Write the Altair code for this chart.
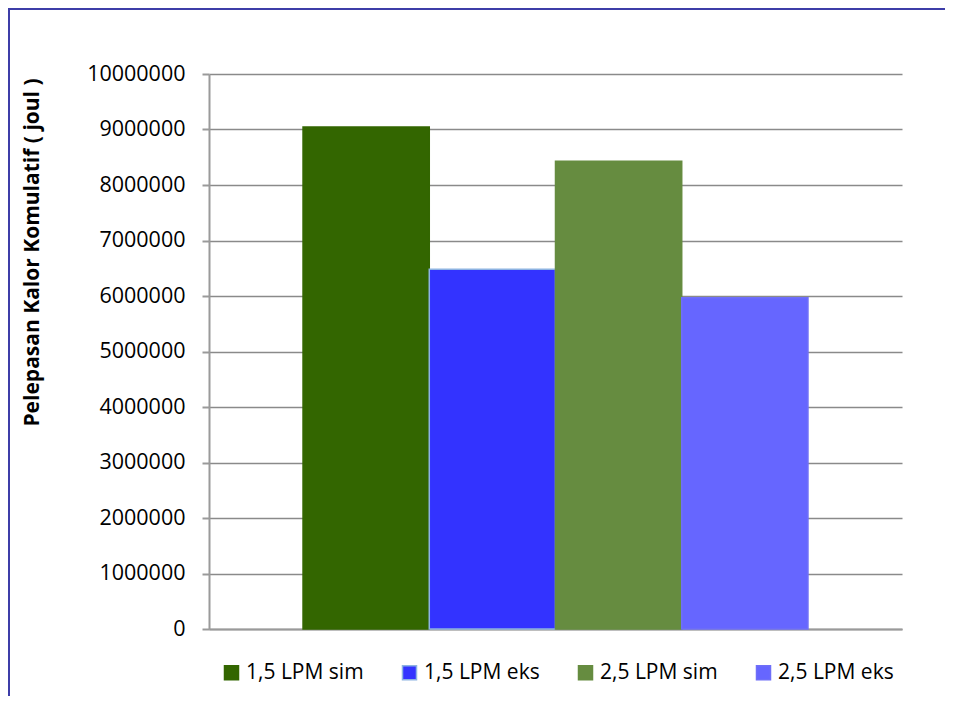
import altair as alt
import pandas as pd

series = ["1,5 LPM sim", "1,5 LPM eks", "2,5 LPM sim", "2,5 LPM eks"]
values = [9045000, 6480000, 8430000, 5970000]
fill_colors = ["#336600", "#3333ff", "#668c40", "#6666ff"]
stroke_colors = ["#336600", "#8db3e2", "#668c40", "#6f6ff8"]
y_ticks = [0, 1000000, 2000000, 3000000, 4000000, 5000000, 6000000, 7000000, 8000000, 9000000, 10000000]
y_title = "Pelepasan Kalor Komulatif ( joul )"

df = pd.DataFrame({"series": series, "value": values})

W, H = 693, 555

frame = alt.Chart(pd.DataFrame({"a": [0]})).mark_rect(
    fill=None, stroke="#3d3da8", strokeWidth=2
).encode(
    x=alt.value(-200), x2=alt.value(W + 60),
    y=alt.value(-65), y2=alt.value(H + 80)
)

bars = alt.Chart(df).mark_bar(strokeWidth=1.5).encode(
    x=alt.X("series:N", sort=series,
            scale=alt.Scale(paddingInner=0, paddingOuter=0.745),
            axis=alt.Axis(labels=False, ticks=False, title=None,
                          domainColor="#9a9a9a", domainWidth=2, grid=False)),
    y=alt.Y("value:Q",
            scale=alt.Scale(domain=[0, 10000000], nice=False),
            axis=alt.Axis(values=y_ticks, format="d", title=y_title,
                          labelFontSize=21.5, labelColor="#000000", labelPadding=17,
                          tickSize=7, tickColor="#9a9a9a", tickWidth=2,
                          domainColor="#9a9a9a", domainWidth=2,
                          gridColor="#8a8a8a", gridWidth=1.5,
                          titleFontSize=21, titleFontWeight="bold", titleColor="#000000",
                          titleAngle=270, titleX=-177, titleY=178,
                          titleAlign="center", titleBaseline="middle")),
    color=alt.Color("series:N", sort=series,
                    scale=alt.Scale(domain=series, range=fill_colors),
                    legend=alt.Legend(title=None, orient="none", legendX=12, legendY=588,
                                      direction="horizontal", columns=4, columnPadding=35,
                                      symbolType="square", symbolSize=196,
                                      symbolStrokeWidth=1.5,
                                      labelFontSize=21, labelColor="#000000", labelOffset=4)),
    stroke=alt.Stroke("series:N", sort=series,
                      scale=alt.Scale(domain=series, range=stroke_colors)),
)

chart = alt.layer(frame, bars).properties(
    width=W, height=H,
    autosize=alt.AutoSizeParams(type="none"),
    padding={"left": 201, "top": 66, "right": 43, "bottom": 67},
).configure(font="Open Sans").configure_view(stroke=None)

chart.save("out.html", embed_options={"renderer": "svg", "actions": False})
